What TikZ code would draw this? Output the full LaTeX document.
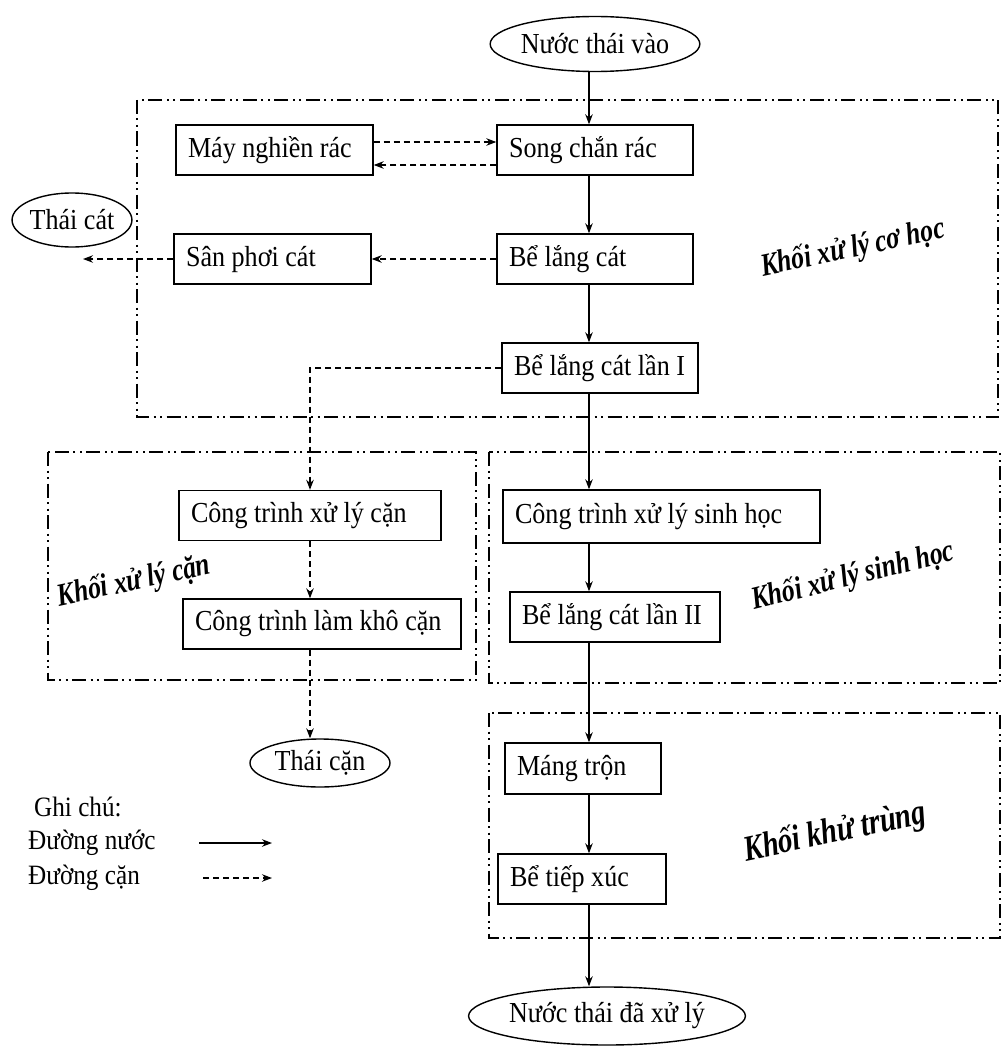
\documentclass[tikz,border=0pt]{standalone}
\usepackage{fontspec}
\setmainfont[FakeStretch=0.9]{Liberation Serif}
\newfontfamily\lblfont[FakeStretch=0.8]{Liberation Serif}
\usetikzlibrary{shapes.geometric,arrows.meta,calc}
\newcommand{\bt}[2]{\makebox[#1][l]{#2}}
\tikzset{
  box/.style={draw, line width=1.4pt, minimum height=50pt, inner xsep=12pt, inner ysep=0pt,
    anchor=center, font=\fontsize{29}{32}\selectfont},
  ell/.style={draw, ellipse, line width=1.4pt, inner sep=0pt, anchor=center,
    font=\fontsize{29}{32}\selectfont},
  lbl/.style={font=\lblfont\fontsize{32}{34}\selectfont\bfseries\itshape, anchor=center, inner sep=0pt},
  legend/.style={font=\fontsize{28}{31}\selectfont, inner sep=0pt},
  frame/.style={line width=2.4pt, dash pattern=on 14pt off 4.5pt on 2pt off 4.5pt on 2pt off 4.5pt},
  flow/.style={line width=1.2pt, -{Stealth[length=10pt,width=7.5pt]}},
  dflow/.style={flow, dash pattern=on 6pt off 4pt},
}
\begin{document}
\begin{tikzpicture}[x=1pt,y=-1pt]
\useasboundingbox (0,0) rectangle (1002,1046);
% frames
\draw[frame] (137,100) rectangle (998,417);
\draw[frame] (48,452) rectangle (476,680);
\draw[frame] (489,452) rectangle (1000,683);
\draw[frame] (489,713) rectangle (1000,938);
% columns
\coordinate (cx) at (589,0);
\coordinate (cx2) at (310,0);
% nodes
\node[ell, minimum width=208pt, minimum height=55pt] (vao) at (595,44) {Nước thái vào};
\node[box] (may) at (274.5,150) {\bt{173pt}{Máy nghiền rác}};
\node[box] (song) at (595,150) {\bt{172pt}{Song chắn rác}};
\node[ell, minimum width=118pt, minimum height=54pt] (thaicat) at (72,220) {Thái cát};
\node[box] (san) at (272.5,259) {\bt{173pt}{Sân phơi cát}};
\node[box] (belc) at (595,259) {\bt{172pt}{Bể lắng cát}};
\node[box] (bl1) at (600,368) {\bt{172pt}{Bể lắng cát lần I}};
\node[box] (xlcan) at (310,515.5) {\bt{238pt}{Công trình xử lý cặn}};
\node[box] (lkcan) at (322,624) {\bt{254pt}{Công trình làm khô cặn}};
\node[box, minimum height=53pt] (xlsh) at (661.5,516.5) {\bt{293pt}{Công trình xử lý sinh học}};
\node[box] (bl2) at (615,617) {\bt{186pt}{Bể lắng cát lần II}};
\node[ell, minimum width=140pt, minimum height=48pt] (thaican) at (320,763) {Thái cặn};
\node[box, minimum height=51pt] (mang) at (583,768.5) {\bt{132pt}{Máng trộn}};
\node[box] (tiep) at (582,879) {\bt{144pt}{Bể tiếp xúc}};
\node[ell, minimum width=253pt, minimum height=58pt] (daxl) at (607,1016) {Nước thái đã xử lý};
% block labels
\node[lbl, rotate=12] (lco) at (853,249) {Khối xử lý cơ học};
\node[lbl, rotate=12] (lcan) at (134,582) {Khối xử lý cặn};
\node[lbl, rotate=14] (lsh) at (853,577) {Khối xử lý sinh học};
\node[lbl, rotate=12, font=\lblfont\fontsize{36}{38}\selectfont\bfseries\itshape] (lkt) at (835,833) {Khối khử trùng};
% legend
\node[legend, anchor=west] (gc) at (34,807) {Ghi chú:};
\node[legend, anchor=west] (dn) at (28,843) {Đường nước};
\node[legend, anchor=west] (dc) at (28,878) {Đường cặn};
\coordinate (dn1) at (199,843);
\coordinate (dn2) at (272,843);
\coordinate (dc1) at (203,878);
\coordinate (dc2) at (272,878);
\coordinate (tcend) at (83,259);
% water line
\draw[flow] (vao.south -| cx) -- (song.north -| cx);
\draw[flow] (song.south -| cx) -- (belc.north -| cx);
\draw[flow] (belc.south -| cx) -- (bl1.north -| cx);
\draw[flow] (bl1.south -| cx) -- (xlsh.north -| cx);
\draw[flow] (xlsh.south -| cx) -- (bl2.north -| cx);
\draw[flow] (bl2.south -| cx) -- (mang.north -| cx);
\draw[flow] (mang.south -| cx) -- (tiep.north -| cx);
\draw[flow] (tiep.south -| cx) -- (daxl.north -| cx);
% sludge line
\draw[dflow] ([yshift=8pt]may.east) -- ([yshift=8pt]song.west);
\draw[dflow] ([yshift=-15pt]song.west) -- ([yshift=-15pt]may.east);
\draw[dflow] (belc.west) -- (san.east);
\draw[dflow] (san.west) -- (tcend);
\draw[dflow] (bl1.west) -| (xlcan.north -| cx2);
\draw[dflow] (xlcan.south -| cx2) -- (lkcan.north -| cx2);
\draw[dflow] (lkcan.south -| cx2) -- (thaican.north -| cx2);
% legend arrows
\draw[flow] (dn1) -- (dn2);
\draw[dflow] (dc1) -- (dc2);
\end{tikzpicture}
\end{document}
